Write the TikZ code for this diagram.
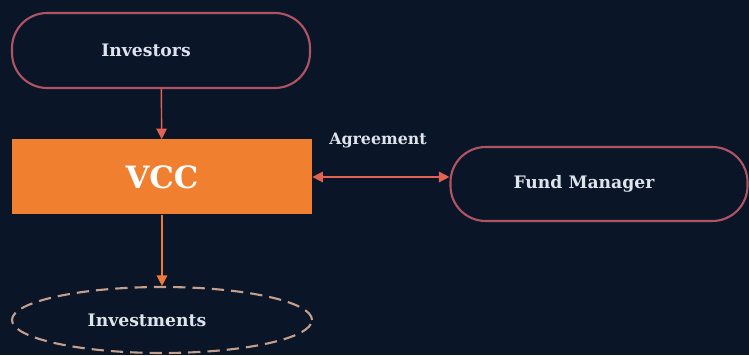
\documentclass[tikz,border=0pt]{standalone}
\usepackage{fontspec}
\setmainfont{DejaVu Serif}
\definecolor{vcbg}{RGB}{10,21,40}
\definecolor{vcorange}{RGB}{240,128,48}
\definecolor{vcrose}{RGB}{176,84,100}
\definecolor{vcsalmon}{RGB}{226,98,84}
\definecolor{vctan}{RGB}{196,160,140}
\definecolor{vctext}{RGB}{222,228,236}
\usetikzlibrary{arrows.meta,positioning,shapes.geometric}
\tikzset{
  party/.style={draw=vcrose, line width=1.2pt, rounded corners=20pt, fill=vcbg,
                font=\fontsize{9.8}{12}\selectfont\bfseries, text=vctext,
                minimum width=#1, minimum height=1.5cm,
                execute at end node={\kern0.6cm}},
  vehicle/.style={fill=vcorange, font=\fontsize{17.5}{20}\selectfont\bfseries, text=white,
                  minimum width=6cm, minimum height=1.5cm},
  asset/.style={draw=vctan, dash pattern=on 7pt off 4pt, line width=1.2pt,
                ellipse, font=\fontsize{9.8}{12}\selectfont\bfseries, text=vctext,
                minimum width=6cm, minimum height=1.32cm,
                execute at end node={\kern0.6cm}},
  flow/.style={-{Triangle[length=6pt,width=6pt]}, line width=0.8pt, #1},
}
\begin{document}
\begin{tikzpicture}
  % Background
  \fill[vcbg] (0,0) rectangle (14.98,7.1);
  \useasboundingbox (0,0) rectangle (14.98,7.1);

  % Parties
  \node[party=5.96cm] (investors) at (3.22,6.09) {Investors};
  \node[vehicle] (vcc) at (3.24,3.56) {VCC};
  \node[party=5.94cm, minimum height=1.48cm] (manager) at (11.98,3.42) {Fund Manager};
  \node[asset] (investments) at (3.24,0.7) {Investments};

  % Flows
  \draw[flow=vcsalmon] (investors) -- (vcc);
  \draw[flow=vcorange!80!vcsalmon] (vcc) -- (investments);
  \coordinate (mgrin) at (manager.west |- vcc.east);
  \draw[flow=vcsalmon, {Triangle[length=6pt,width=6pt]}-{Triangle[length=6pt,width=6pt]}]
    (vcc.east) -- (mgrin);
  \node[font=\fontsize{9}{11}\selectfont\bfseries, text=vctext] (agree) at (7.56,4.3) {Agreement};
\end{tikzpicture}
\end{document}
